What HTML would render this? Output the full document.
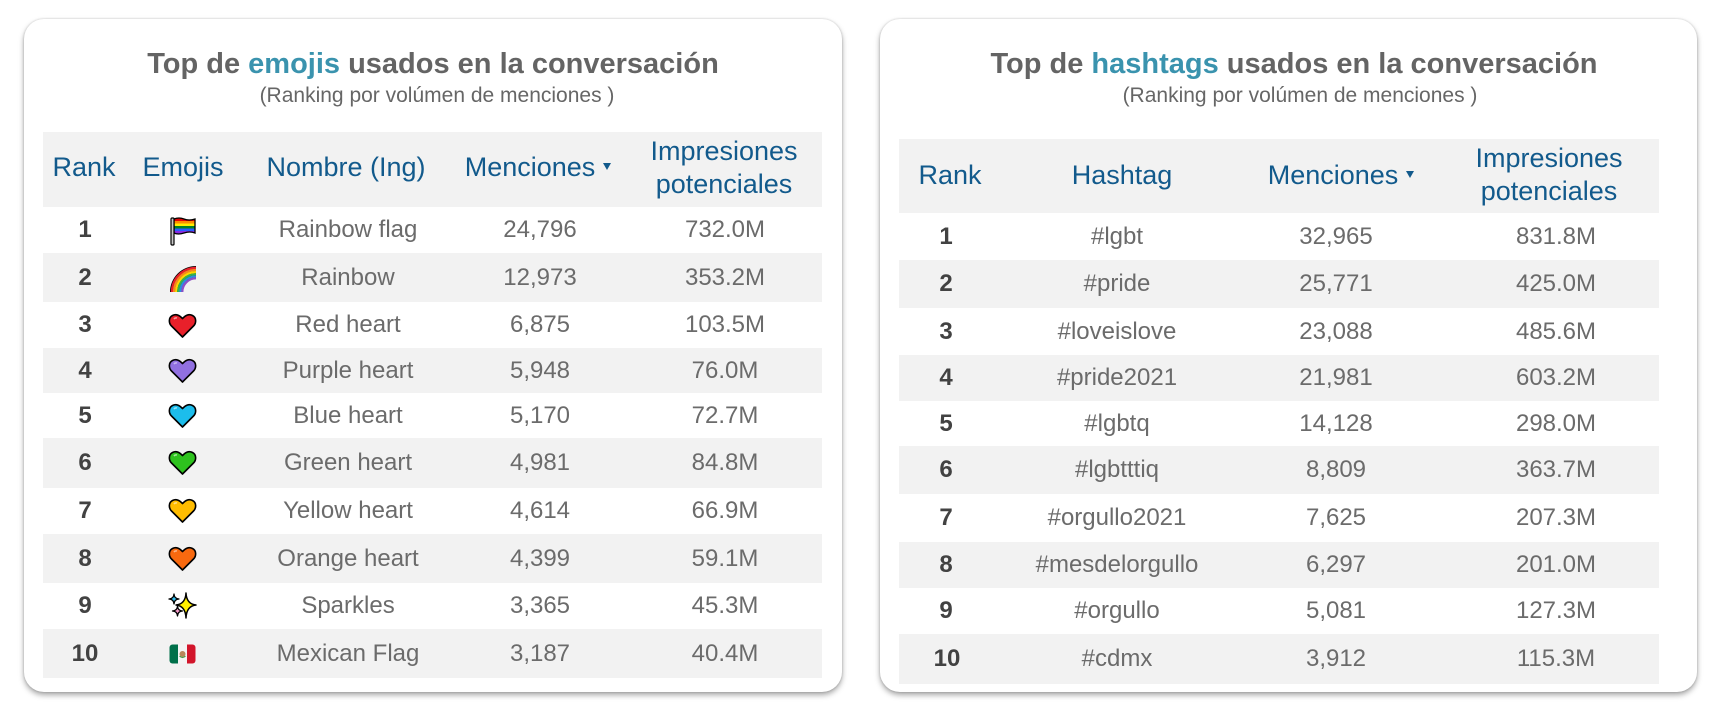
<!DOCTYPE html>
<html><head><meta charset="utf-8"><style>
*{margin:0;padding:0;box-sizing:border-box}
html,body{width:1729px;height:716px;background:#fff;overflow:hidden;font-family:"Liberation Sans",sans-serif}
.card{position:absolute;background:#fff;border-radius:20px;box-shadow:0 3px 6px rgba(0,0,0,.35),0 0 2px rgba(0,0,0,.18)}
.band{position:absolute;background:#f2f2f2}
.t{position:absolute;width:900px;margin-left:-450px;text-align:center;line-height:1;white-space:nowrap}
.title{font-size:29px;font-weight:bold;color:#646464}
.title b{color:#3a93ae}
.sub{font-size:21px;color:#666}
.h{font-size:27px;color:#125a8c}
.h2{line-height:33px}
.r{font-size:24px;font-weight:bold;color:#424242}
.d{font-size:24px;color:#6b6b6b}
.tri{display:inline-block;width:0;height:0;border-left:4px solid transparent;border-right:4px solid transparent;border-top:7px solid #125a8c;vertical-align:middle;margin-left:8px;position:relative;top:-2px}
.e{position:absolute}
</style></head><body>

<div class="card" style="left:24px;top:19px;width:818px;height:673px"></div>
<div class="card" style="left:880px;top:19px;width:817px;height:673px"></div>

<!-- LEFT CARD -->
<div class="t title" style="left:433px;top:50px">Top de <b>emojis</b> usados en la conversación</div>
<div class="t sub" style="left:437px;top:85px">(Ranking por volúmen de menciones )</div>

<div class="band" style="left:43px;top:132px;width:779px;height:75px"></div>
<div class="band" style="left:43px;top:253px;width:779px;height:49px"></div>
<div class="band" style="left:43px;top:348px;width:779px;height:45px"></div>
<div class="band" style="left:43px;top:438px;width:779px;height:50px"></div>
<div class="band" style="left:43px;top:534px;width:779px;height:49px"></div>
<div class="band" style="left:43px;top:629px;width:779px;height:49px"></div>

<div class="t h" style="left:84px;top:154px">Rank</div>
<div class="t h" style="left:183px;top:154px">Emojis</div>
<div class="t h" style="left:346px;top:154px">Nombre (Ing)</div>
<div class="t h" style="left:538px;top:154px">Menciones<span class="tri"></span></div>
<div class="t h h2" style="left:724px;top:135px">Impresiones<br>potenciales</div>

<!-- left rows -->
<div class="t r" style="left:85px;top:218px">1</div>
<div class="t r" style="left:85px;top:266px">2</div>
<div class="t r" style="left:85px;top:313px">3</div>
<div class="t r" style="left:85px;top:359px">4</div>
<div class="t r" style="left:85px;top:404px">5</div>
<div class="t r" style="left:85px;top:451px">6</div>
<div class="t r" style="left:85px;top:499px">7</div>
<div class="t r" style="left:85px;top:547px">8</div>
<div class="t r" style="left:85px;top:594px">9</div>
<div class="t r" style="left:85px;top:642px">10</div>

<div class="t d" style="left:348px;top:218px">Rainbow flag</div>
<div class="t d" style="left:348px;top:266px">Rainbow</div>
<div class="t d" style="left:348px;top:313px">Red heart</div>
<div class="t d" style="left:348px;top:359px">Purple heart</div>
<div class="t d" style="left:348px;top:404px">Blue heart</div>
<div class="t d" style="left:348px;top:451px">Green heart</div>
<div class="t d" style="left:348px;top:499px">Yellow heart</div>
<div class="t d" style="left:348px;top:547px">Orange heart</div>
<div class="t d" style="left:348px;top:594px">Sparkles</div>
<div class="t d" style="left:348px;top:642px">Mexican Flag</div>

<div class="t d" style="left:540px;top:218px">24,796</div>
<div class="t d" style="left:540px;top:266px">12,973</div>
<div class="t d" style="left:540px;top:313px">6,875</div>
<div class="t d" style="left:540px;top:359px">5,948</div>
<div class="t d" style="left:540px;top:404px">5,170</div>
<div class="t d" style="left:540px;top:451px">4,981</div>
<div class="t d" style="left:540px;top:499px">4,614</div>
<div class="t d" style="left:540px;top:547px">4,399</div>
<div class="t d" style="left:540px;top:594px">3,365</div>
<div class="t d" style="left:540px;top:642px">3,187</div>

<div class="t d" style="left:725px;top:218px">732.0M</div>
<div class="t d" style="left:725px;top:266px">353.2M</div>
<div class="t d" style="left:725px;top:313px">103.5M</div>
<div class="t d" style="left:725px;top:359px">76.0M</div>
<div class="t d" style="left:725px;top:404px">72.7M</div>
<div class="t d" style="left:725px;top:451px">84.8M</div>
<div class="t d" style="left:725px;top:499px">66.9M</div>
<div class="t d" style="left:725px;top:547px">59.1M</div>
<div class="t d" style="left:725px;top:594px">45.3M</div>
<div class="t d" style="left:725px;top:642px">40.4M</div>

<!-- emojis -->
<svg class="e" style="left:169px;top:216px" width="28" height="30" viewBox="0 0 28 30">
<defs><clipPath id="fc"><path d="M5 3 Q10 1 15 3 T26 3 V17 Q21 15 15 17 T5 17Z"/></clipPath></defs>
<g clip-path="url(#fc)">
<rect x="0" y="0" width="28" height="5" fill="#e40303"/>
<rect x="0" y="5" width="28" height="2.5" fill="#ff8c00"/>
<rect x="0" y="7.5" width="28" height="2.5" fill="#ffed00"/>
<rect x="0" y="10" width="28" height="2.5" fill="#008026"/>
<rect x="0" y="12.5" width="28" height="2.5" fill="#2b5cff"/>
<rect x="0" y="15" width="28" height="4" fill="#8a2be2"/>
</g>
<path d="M5 3 Q10 1 15 3 T26 3 V17 Q21 15 15 17 T5 17Z" fill="none" stroke="#000" stroke-width="1.3"/>
<rect x="2" y="2" width="3" height="27" rx="1" fill="#c8c8c8" stroke="#000" stroke-width="1.2"/>
</svg>

<svg class="e" style="left:168px;top:264px" width="29" height="29" viewBox="0 0 29 29">
<path d="M2 28 A26 26 0 0 1 28 2 V14 A14 14 0 0 0 14 28 Z" fill="#000"/>
<g fill="none" stroke-width="2.2">
<path d="M3.9 28 A24.1 24.1 0 0 1 28 3.9" stroke="#e8202a"/>
<path d="M6 28 A22 22 0 0 1 28 6" stroke="#f7871c"/>
<path d="M8.1 28 A19.9 19.9 0 0 1 28 8.1" stroke="#ffd500"/>
<path d="M10.2 28 A17.8 17.8 0 0 1 28 10.2" stroke="#37b34a"/>
<path d="M12.3 28 A15.7 15.7 0 0 1 28 12.3" stroke="#2b8fe0"/>
<path d="M14.3 28 A13.7 13.7 0 0 1 28 14.3" stroke="#8e4fc7"/>
</g>
</svg>

<svg class="e" style="left:168px;top:313px" width="29" height="26" viewBox="0 0 29 26"><path d="M14.5 24 L3.5 13 C0.5 10 0.5 4.5 4.5 2.5 C8.5 0.5 11.5 2.5 14.5 5.5 C17.5 2.5 20.5 0.5 24.5 2.5 C28.5 4.5 28.5 10 25.5 13 Z" fill="#e8202a" stroke="#000" stroke-width="1.6" stroke-linejoin="round"/><path d="M6 6 Q7 4.5 9 5" stroke="#f7a0a0" stroke-width="1.6" fill="none"/></svg>
<svg class="e" style="left:168px;top:358px" width="29" height="26" viewBox="0 0 29 26"><path d="M14.5 24 L3.5 13 C0.5 10 0.5 4.5 4.5 2.5 C8.5 0.5 11.5 2.5 14.5 5.5 C17.5 2.5 20.5 0.5 24.5 2.5 C28.5 4.5 28.5 10 25.5 13 Z" fill="#9170e0" stroke="#000" stroke-width="1.6" stroke-linejoin="round"/><path d="M6 6 Q7 4.5 9 5" stroke="#c8b8f2" stroke-width="1.6" fill="none"/></svg>
<svg class="e" style="left:168px;top:403px" width="29" height="26" viewBox="0 0 29 26"><path d="M14.5 24 L3.5 13 C0.5 10 0.5 4.5 4.5 2.5 C8.5 0.5 11.5 2.5 14.5 5.5 C17.5 2.5 20.5 0.5 24.5 2.5 C28.5 4.5 28.5 10 25.5 13 Z" fill="#1cbdec" stroke="#000" stroke-width="1.6" stroke-linejoin="round"/><path d="M6 6 Q7 4.5 9 5" stroke="#9de4f7" stroke-width="1.6" fill="none"/></svg>
<svg class="e" style="left:168px;top:450px" width="29" height="26" viewBox="0 0 29 26"><path d="M14.5 24 L3.5 13 C0.5 10 0.5 4.5 4.5 2.5 C8.5 0.5 11.5 2.5 14.5 5.5 C17.5 2.5 20.5 0.5 24.5 2.5 C28.5 4.5 28.5 10 25.5 13 Z" fill="#2ec21e" stroke="#000" stroke-width="1.6" stroke-linejoin="round"/><path d="M6 6 Q7 4.5 9 5" stroke="#a8eaa0" stroke-width="1.6" fill="none"/></svg>
<svg class="e" style="left:168px;top:498px" width="29" height="26" viewBox="0 0 29 26"><path d="M14.5 24 L3.5 13 C0.5 10 0.5 4.5 4.5 2.5 C8.5 0.5 11.5 2.5 14.5 5.5 C17.5 2.5 20.5 0.5 24.5 2.5 C28.5 4.5 28.5 10 25.5 13 Z" fill="#ffbc00" stroke="#000" stroke-width="1.6" stroke-linejoin="round"/><path d="M6 6 Q7 4.5 9 5" stroke="#ffe08a" stroke-width="1.6" fill="none"/></svg>
<svg class="e" style="left:168px;top:546px" width="29" height="26" viewBox="0 0 29 26"><path d="M14.5 24 L3.5 13 C0.5 10 0.5 4.5 4.5 2.5 C8.5 0.5 11.5 2.5 14.5 5.5 C17.5 2.5 20.5 0.5 24.5 2.5 C28.5 4.5 28.5 10 25.5 13 Z" fill="#f8690f" stroke="#000" stroke-width="1.6" stroke-linejoin="round"/><path d="M6 6 Q7 4.5 9 5" stroke="#fbb88c" stroke-width="1.6" fill="none"/></svg>

<svg class="e" style="left:168px;top:592px" width="30" height="28" viewBox="0 0 30 28">
<path d="M18 1 Q18.5 12 28 13 Q18.5 14 18 26 Q17.5 14 8 13 Q17.5 12 18 1Z" fill="#ffef00" stroke="#000" stroke-width="1.5" stroke-linejoin="round"/>
<path d="M6 2 Q6.3 6.7 11 7 Q6.3 7.3 6 12 Q5.7 7.3 1 7 Q5.7 6.7 6 2Z" fill="#33bff0" stroke="#000" stroke-width="1.3" stroke-linejoin="round"/>
<path d="M9.5 14 Q9.8 18.7 14.5 19 Q9.8 19.3 9.5 24 Q9.2 19.3 4.5 19 Q9.2 18.7 9.5 14Z" fill="#f49ac8" stroke="#000" stroke-width="1.3" stroke-linejoin="round"/>
</svg>

<svg class="e" style="left:169px;top:644px" width="27" height="20" viewBox="0 0 27 20">
<defs><clipPath id="mx"><rect x="0.5" y="0.5" width="26" height="19" rx="3"/></clipPath></defs>
<g clip-path="url(#mx)">
<rect x="0" y="0" width="9" height="20" fill="#00704a"/>
<rect x="9" y="0" width="9" height="20" fill="#f4f4f4"/>
<rect x="18" y="0" width="9" height="20" fill="#d2152b"/>
</g>
<circle cx="13.5" cy="10" r="3" fill="#b8865a"/>
<path d="M10.5 12 Q13.5 15 16.5 12" stroke="#4a9a4a" stroke-width="1.2" fill="none"/>
</svg>

<!-- RIGHT CARD -->
<div class="t title" style="left:1294px;top:50px">Top de <b>hashtags</b> usados en la conversación</div>
<div class="t sub" style="left:1300px;top:85px">(Ranking por volúmen de menciones )</div>

<div class="band" style="left:899px;top:139px;width:760px;height:74px"></div>
<div class="band" style="left:899px;top:260px;width:760px;height:48px"></div>
<div class="band" style="left:899px;top:355px;width:760px;height:46px"></div>
<div class="band" style="left:899px;top:446px;width:760px;height:48px"></div>
<div class="band" style="left:899px;top:542px;width:760px;height:46px"></div>
<div class="band" style="left:899px;top:634px;width:760px;height:50px"></div>

<div class="t h" style="left:950px;top:162px">Rank</div>
<div class="t h" style="left:1122px;top:162px">Hashtag</div>
<div class="t h" style="left:1341px;top:162px">Menciones<span class="tri"></span></div>
<div class="t h h2" style="left:1549px;top:142px">Impresiones<br>potenciales</div>

<div class="t r" style="left:946px;top:225px">1</div>
<div class="t r" style="left:946px;top:272px">2</div>
<div class="t r" style="left:946px;top:320px">3</div>
<div class="t r" style="left:946px;top:366px">4</div>
<div class="t r" style="left:946px;top:412px">5</div>
<div class="t r" style="left:946px;top:458px">6</div>
<div class="t r" style="left:946px;top:506px">7</div>
<div class="t r" style="left:946px;top:553px">8</div>
<div class="t r" style="left:946px;top:599px">9</div>
<div class="t r" style="left:947px;top:647px">10</div>

<div class="t d" style="left:1117px;top:225px">#lgbt</div>
<div class="t d" style="left:1117px;top:272px">#pride</div>
<div class="t d" style="left:1117px;top:320px">#loveislove</div>
<div class="t d" style="left:1117px;top:366px">#pride2021</div>
<div class="t d" style="left:1117px;top:412px">#lgbtq</div>
<div class="t d" style="left:1117px;top:458px">#lgbtttiq</div>
<div class="t d" style="left:1117px;top:506px">#orgullo2021</div>
<div class="t d" style="left:1117px;top:553px">#mesdelorgullo</div>
<div class="t d" style="left:1117px;top:599px">#orgullo</div>
<div class="t d" style="left:1117px;top:647px">#cdmx</div>

<div class="t d" style="left:1336px;top:225px">32,965</div>
<div class="t d" style="left:1336px;top:272px">25,771</div>
<div class="t d" style="left:1336px;top:320px">23,088</div>
<div class="t d" style="left:1336px;top:366px">21,981</div>
<div class="t d" style="left:1336px;top:412px">14,128</div>
<div class="t d" style="left:1336px;top:458px">8,809</div>
<div class="t d" style="left:1336px;top:506px">7,625</div>
<div class="t d" style="left:1336px;top:553px">6,297</div>
<div class="t d" style="left:1336px;top:599px">5,081</div>
<div class="t d" style="left:1336px;top:647px">3,912</div>

<div class="t d" style="left:1556px;top:225px">831.8M</div>
<div class="t d" style="left:1556px;top:272px">425.0M</div>
<div class="t d" style="left:1556px;top:320px">485.6M</div>
<div class="t d" style="left:1556px;top:366px">603.2M</div>
<div class="t d" style="left:1556px;top:412px">298.0M</div>
<div class="t d" style="left:1556px;top:458px">363.7M</div>
<div class="t d" style="left:1556px;top:506px">207.3M</div>
<div class="t d" style="left:1556px;top:553px">201.0M</div>
<div class="t d" style="left:1556px;top:599px">127.3M</div>
<div class="t d" style="left:1556px;top:647px">115.3M</div>

</body></html>
